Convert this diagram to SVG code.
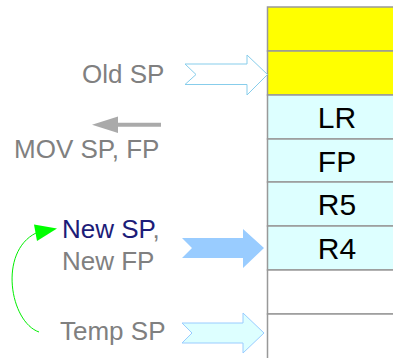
<svg xmlns="http://www.w3.org/2000/svg" width="393" height="358" viewBox="0 0 393 358">
<style>
.cell{stroke:#999999;stroke-width:1.5}
.y{fill:#ffff00}
.c{fill:#ddffff}
.w{fill:#ffffff}
.ct{font-family:"Liberation Sans",Arial,sans-serif;font-size:30px;fill:#000;text-anchor:middle}
.lb{font-family:"Liberation Sans",Arial,sans-serif;font-size:26px;fill:#808080}
</style>
<rect width="393" height="358" fill="#ffffff"/>
<g id="stack">
<g id="row1"><rect class="cell y" x="267.5" y="7" width="140" height="44"/></g>
<g id="row2"><rect class="cell y" x="267.5" y="51" width="140" height="44"/></g>
<g id="row-lr"><rect class="cell c" x="267.5" y="95" width="140" height="44"/><text class="ct" x="337" y="128">LR</text></g>
<g id="row-fp"><rect class="cell c" x="267.5" y="139" width="140" height="43"/><text class="ct" x="337" y="171.5">FP</text></g>
<g id="row-r5"><rect class="cell c" x="267.5" y="182" width="140" height="44"/><text class="ct" x="337" y="215">R5</text></g>
<g id="row-r4"><rect class="cell c" x="267.5" y="226" width="140" height="44"/><text class="ct" x="337" y="259">R4</text></g>
<g id="row7"><rect class="cell w" x="267.5" y="270" width="140" height="44"/></g>
<g id="row8"><rect class="cell w" x="267.5" y="314" width="140" height="50"/></g>
</g>
<g id="labels">
<g id="old-sp"><text class="lb" x="82" y="82.5">Old SP</text></g>
<g id="mov"><text class="lb" x="14" y="157.5">MOV SP, FP</text></g>
<g id="new-sp"><text class="lb" x="62" y="238"><tspan fill="#1c1c78">New SP</tspan>,</text><text class="lb" x="62" y="270">New FP</text></g>
<g id="temp-sp"><text class="lb" x="60" y="340">Temp SP</text></g>
</g>
<g id="connectors">
<polygon points="185,64 247,64 247,55 267.5,74.5 247,95 247,84.5 185,84.5 196,74.5" fill="#ffffff" stroke="#87cdeb" stroke-width="1"/>
<polygon points="182,238 243,238 243,229 264,248 243,268 243,258 182,258 192,248" fill="#99ccff"/>
<polygon points="182,323 243,323 243,313 264,333 243,353 243,343 182,343 192,333" fill="#ddffff" stroke="#99ccff" stroke-width="1"/>
<line x1="161" y1="124.7" x2="116" y2="124.7" stroke="#aaaaaa" stroke-width="4"/>
<polygon points="92,124.7 118,116.5 118,133" fill="#aaaaaa"/>
<path d="M39,332 C10,322 -2,252 36,233" fill="none" stroke="#00ee00" stroke-width="1"/>
<polygon points="57,228.5 34,224.5 37,241" fill="#00ff00"/>
</g>
</svg>
